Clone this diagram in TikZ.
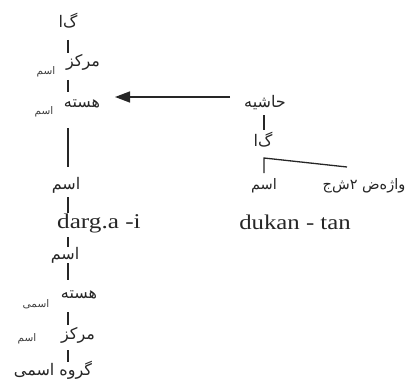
\documentclass[tikz,border=0pt]{standalone}
\usepackage{fontspec}
\setmainfont{Liberation Serif}
\newfontfamily\fa[Script=Arabic]{DejaVu Sans}
\TeXXeTstate=1
\usetikzlibrary{arrows.meta}
\tikzset{
  fam/.style={font=\fa\fontsize{16}{16}\selectfont, inner sep=0pt, text=black!85},
  fas/.style={font=\fa\fontsize{10.5}{11}\selectfont, inner sep=0pt, text=black!75},
  fmid/.style={font=\fa\fontsize{14.5}{15}\selectfont, inner sep=0pt, text=black!85},
  lat/.style={font=\fontsize{21}{21}\selectfont, inner sep=0pt, text=black!85},
  ln/.style={line width=1.3pt, draw=black!85}
}
\newcommand{\RL}[1]{\beginR #1\endR}
\begin{document}
\begin{tikzpicture}[x=1pt,y=-1pt]
\useasboundingbox (0,0) rectangle (406,385);
% left column
\node[fam] (ga1) at (68,21) {\RL{گ‌ا}};
\node[fam] (mk1) at (83,62) {\RL{مرکز}};
\node[fas] (mk1s) at (46,72) {\RL{اسم}};
\node[fam] (hs1) at (82,104) {\RL{هسته}};
\node[fas] (hs1s) at (44,112) {\RL{اسم}};
\node[fam] (es1) at (66,185) {\RL{اسم}};
\node[lat, anchor=west] (darg) at (57,223) {\scalebox{1.2}[1]{darg.a -i}};
\node[fam] (es2) at (65,255) {\RL{اسم}};
\node[fam] (hs2) at (79,295) {\RL{هسته}};
\node[fas] (hs2s) at (36,304) {\RL{اسمی}};
\node[fam] (mk2) at (78,335) {\RL{مرکز}};
\node[fas] (mk2s) at (27,339) {\RL{اسم}};
\node[fam] (gr) at (53,370) {\RL{گروه اسمی}};
\draw[ln] (68,40) -- (68,53);
\draw[ln] (68,80) -- (68,92);
\draw[ln] (68,128) -- (68,167);
\draw[ln] (68,197) -- (68,213);
\draw[ln] (68,237) -- (68,247);
\draw[ln] (68,263) -- (68,280);
\draw[ln] (68,312) -- (68,325);
\draw[ln] (68,350) -- (68,362);
% right
\node[fam] (hsh) at (265,103) {\RL{حاشیه}};
\node[fam] (ga2) at (263,140) {\RL{گ‌ا}};
\node[fmid] (es3) at (264,186) {\RL{اسم}};
\node[fmid] (cl) at (364,186) {\RL{واژه‌ض ۲ش‌ج}};
\node[lat] (dk) at (295,222) {\scalebox{1.18}[1]{dukan - tan}};
\draw[ln] (264,115) -- (264,130);
\draw[ln] (264,173) -- (264,158) -- (347,167);
% arrow
\coordinate (aS) at (230,97);
\coordinate (aE) at (115,97);
\draw[ln, line width=1.4pt, -{Triangle[length=15pt,width=11pt]}] (aS) -- (aE);
\end{tikzpicture}
\end{document}
